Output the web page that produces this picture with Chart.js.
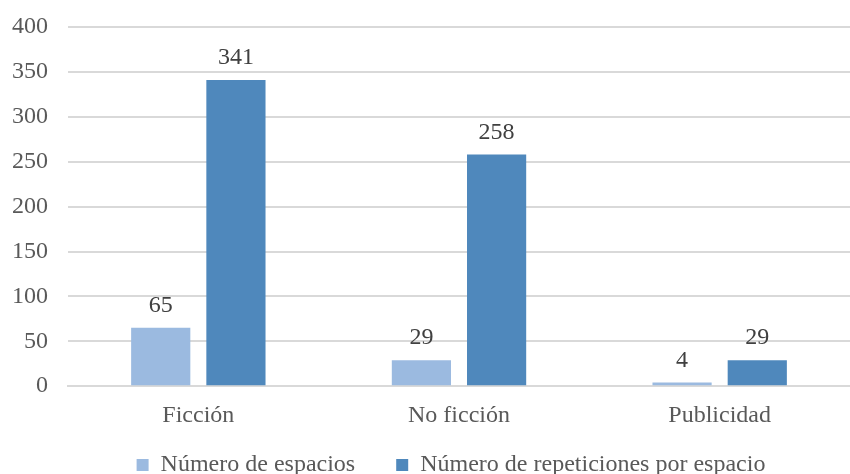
<!DOCTYPE html>
<html>
<head>
<meta charset="utf-8">
<script src="https://cdn.jsdelivr.net/npm/chart.js@4/dist/chart.umd.min.js"></script>
<style>
  html, body { margin: 0; padding: 0; background: #fff; }
  #wrap { width: 850px; height: 474px; }
</style>
</head>
<body>
<div id="wrap"><canvas id="chart"></canvas></div>
<script>
const categories = ['Ficción', 'No ficción', 'Publicidad'];
const espacios = [65, 29, 4];
const repeticiones = [341, 258, 29];
const yTicks = [0, 50, 100, 150, 200, 250, 300, 350, 400];

const FONT = "'Liberation Serif', 'Times New Roman', serif";
const TEXT = '#595959';
const SIZE = 24;

// valores encima de cada barra
const valueLabels = {
  id: 'valueLabels',
  afterDatasetsDraw(chart) {
    const ctx = chart.ctx;
    ctx.save();
    ctx.font = SIZE + 'px ' + FONT;
    ctx.fillStyle = '#404040';
    ctx.textAlign = 'center';
    ctx.textBaseline = 'bottom';
    chart.data.datasets.forEach((ds, i) => {
      chart.getDatasetMeta(i).data.forEach((bar, j) => {
        ctx.fillText(ds.data[j], bar.x, bar.y - 10);
      });
    });
    ctx.restore();
  }
};

// la leyenda va un poco a la derecha del centro
const legendShift = {
  id: 'legendShift',
  afterLayout(chart) {
    chart.legend.left += 26;
    chart.legend.right += 26;
  }
};

new Chart(document.getElementById('chart'), {
  type: 'bar',
  data: {
    labels: categories,
    datasets: [
      {
        label: 'Número de espacios',
        data: espacios,
        backgroundColor: '#9bbae0'
      },
      {
        label: 'Número de repeticiones por espacio',
        data: repeticiones,
        backgroundColor: '#4f88bc'
      }
    ]
  },
  options: {
    responsive: true,
    maintainAspectRatio: false,
    animation: false,
    layout: { padding: { left: -8, right: -8, top: 27, bottom: -13 } },
    categoryPercentage: 0.577,
    barPercentage: 0.787,
    scales: {
      x: {
        grid: { display: false },
        border: { color: '#d9d9d9', width: 2 },
        ticks: { color: TEXT, font: { family: FONT, size: SIZE }, padding: 7 },
        afterFit(axis) {
          axis.height += 11;
          axis.paddingLeft = 0;
          axis.paddingRight = 0;
        }
      },
      y: {
        min: 0,
        max: 400,
        afterBuildTicks(axis) { axis.ticks = yTicks.map(v => ({ value: v })); },
        afterFit(axis) {
          axis.paddingTop = 0;
          axis.paddingBottom = 0;
        },
        grid: { color: '#d9d9d9', lineWidth: 2, drawTicks: false },
        border: { display: false },
        ticks: { color: TEXT, font: { family: FONT, size: SIZE }, padding: 20 }
      }
    },
    plugins: {
      legend: {
        position: 'bottom',
        labels: {
          color: TEXT,
          font: { family: FONT, size: SIZE },
          boxWidth: 12,
          boxHeight: 12,
          padding: 5,
          generateLabels(chart) {
            const items = Chart.defaults.plugins.legend.labels.generateLabels(chart);
            items[0].text += '      ';
            return items;
          }
        }
      },
      tooltip: { enabled: false }
    }
  },
  plugins: [valueLabels, legendShift]
});
</script>
</body>
</html>
